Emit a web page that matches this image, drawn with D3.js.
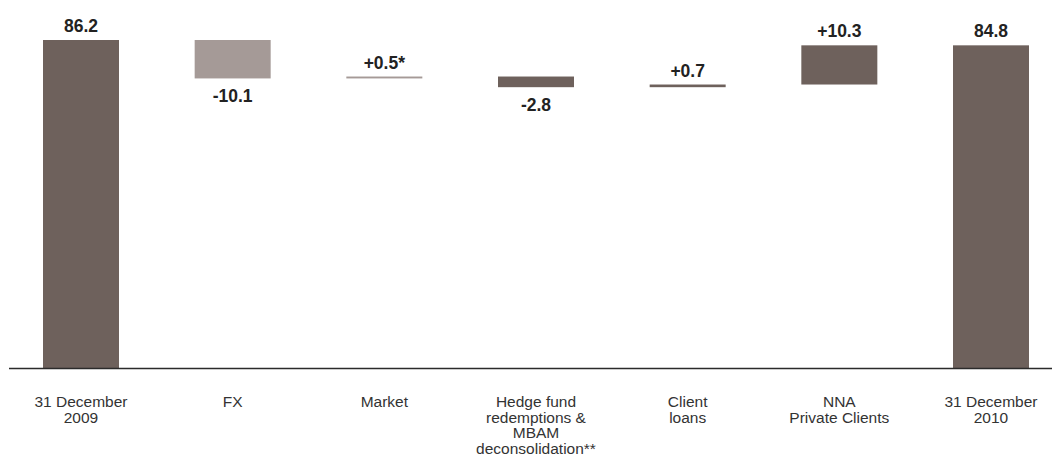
<!DOCTYPE html>
<html>
<head>
<meta charset="utf-8">
<script src="https://cdn.jsdelivr.net/npm/d3@7/dist/d3.min.js"></script>
<style>
  html, body { margin: 0; padding: 0; background: #ffffff; }
  svg { display: block; }
  text { font-family: "Liberation Sans", Arial, Helvetica, sans-serif; }
</style>
</head>
<body>
<svg id="chart" width="1052" height="466"></svg>
<script>
// Assets under management bridge, CHF bn
const categories = [
  "31 December\n2009",
  "FX",
  "Market",
  "Hedge fund\nredemptions &\nMBAM\ndeconsolidation**",
  "Client\nloans",
  "NNA\nPrivate Clients",
  "31 December\n2010"
];
const kinds = ["total", "delta", "delta", "delta", "delta", "delta", "total"];
const values = [86.2, -10.1, 0.5, -2.8, 0.7, 10.3, 84.8];
const footnotes = ["", "", "*", "", "", "", ""];
const tones = ["dark", "light", "light", "dark", "dark", "dark", "dark"];

const palette = { dark: "#6e615c", light: "#a59a97" };

// Build waterfall segments
let running = 0;
const segments = categories.map((c, i) => {
  let y0, y1;
  if (kinds[i] === "total") {
    y0 = 0; y1 = values[i]; running = values[i];
  } else {
    y0 = running; y1 = running + values[i]; running = y1;
  }
  return { cat: c, kind: kinds[i], value: values[i], lo: Math.min(y0, y1), hi: Math.max(y0, y1), note: footnotes[i], tone: tones[i] };
});

const svg = d3.select("#chart");
const baseY = 368;

const x = d3.scalePoint().domain(categories).range([81, 991]);
const barW = 76;
const y = d3.scaleLinear().domain([0, 86.2]).range([baseY, 40]);

// Bars
svg.append("g").selectAll("rect")
  .data(segments)
  .join("rect")
  .attr("x", d => x(d.cat) - barW / 2)
  .attr("width", barW)
  .attr("y", d => y(d.hi))
  .attr("height", d => y(d.lo) - y(d.hi))
  .attr("fill", d => palette[d.tone]);

// Baseline axis
svg.append("line")
  .attr("x1", 9).attr("x2", 1052)
  .attr("y1", baseY + 0.5).attr("y2", baseY + 0.5)
  .attr("stroke", "#2b2b2b").attr("stroke-width", 1.6);

// Value labels
const fmt = d => {
  if (d.kind === "total") return d.value.toFixed(1);
  return (d.value > 0 ? "+" : "-") + Math.abs(d.value).toFixed(1) + d.note;
};
svg.append("g").selectAll("text")
  .data(segments)
  .join("text")
  .attr("x", d => x(d.cat))
  .attr("y", d => (d.kind === "delta" && d.value < 0) ? y(d.lo) + 24 : y(d.hi) - 8)
  .attr("text-anchor", "middle")
  .attr("font-size", 17.5)
  .attr("font-weight", "bold")
  .attr("fill", "#222")
  .text(fmt);

// Category labels under the axis
const catG = svg.append("g");
categories.forEach(c => {
  const t = catG.append("text")
    .attr("x", x(c))
    .attr("y", 407)
    .attr("text-anchor", "middle")
    .attr("font-size", 15.5)
    .attr("fill", "#333");
  c.split("\n").forEach((line, j) => {
    t.append("tspan")
      .attr("x", x(c))
      .attr("dy", j === 0 ? 0 : 15.7)
      .text(line);
  });
});
</script>
</body>
</html>
